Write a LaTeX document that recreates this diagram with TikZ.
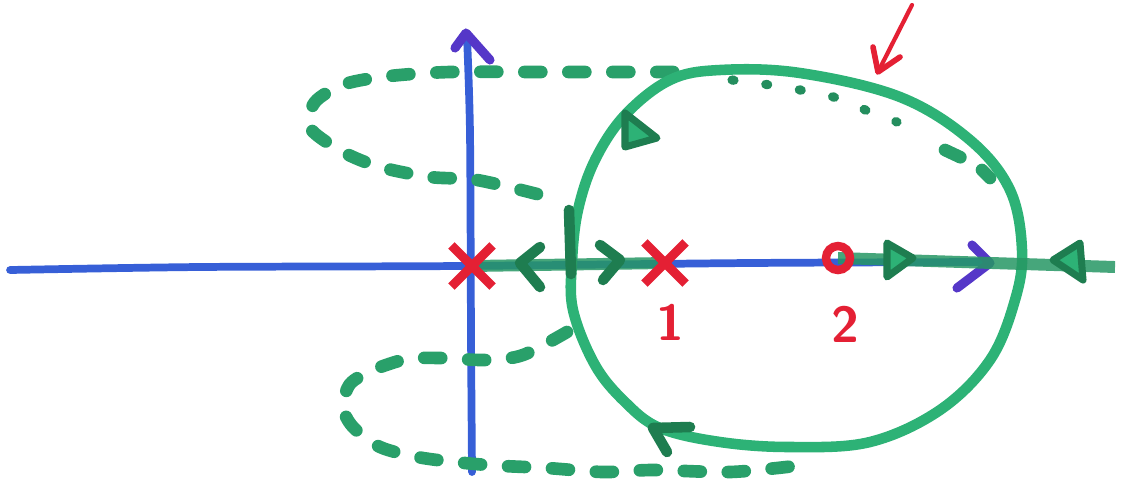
\documentclass[tikz,border=0pt]{standalone}
\usetikzlibrary{shapes.misc}

\definecolor{axisblue}{RGB}{55,95,215}
\definecolor{tipblue}{RGB}{85,55,200}
\definecolor{locgreen}{RGB}{45,178,118}
\definecolor{darkgreen}{RGB}{30,125,80}
\definecolor{markred}{RGB}{228,32,52}

\begin{document}
\begin{tikzpicture}[
	axis/.style={axisblue, line width=2.2pt, line cap=round},
	axistip/.style={tipblue, line width=2.6pt, line cap=round, line join=round},
	locus/.style={locgreen, line width=3pt, line cap=round},
	onaxis/.style={locgreen!85!black, line width=3.4pt, opacity=0.85},
	dashloc/.style={locgreen!90!black, line width=3.6pt, line cap=round, dash pattern=on 0.17cm off 0.27cm},
	dotloc/.style={locgreen!80!black, line width=2.6pt, line cap=round, dash pattern=on 0.02cm off 0.32cm},
	chev/.style={darkgreen, line width=3pt, line cap=round, line join=round},
	tri/.style={darkgreen, fill=locgreen, line width=2pt, line join=round},
	pole/.style={cross out, draw=markred, line width=2.6pt, minimum size=0.32cm, inner sep=0pt},
	zero/.style={circle, draw=markred, line width=2.4pt, minimum size=0.24cm, inner sep=0pt},
	lbl/.style={markred, font=\sffamily\bfseries\Large}
]
\useasboundingbox (0,0) rectangle (11.23,4.84);

\coordinate (O) at (4.72,2.18);
\coordinate (P1) at (6.65,2.21);
\coordinate (Z2) at (8.38,2.26);
\coordinate (E) at (11.15,2.17);

% Ejes
	\draw[axis] plot[smooth] coordinates {(0.10,2.14) (2.0,2.17) (4.6,2.18) (7.5,2.21) (9.85,2.22)};
	\draw[axis] plot[smooth] coordinates {(4.72,0.12) (4.71,1.5) (4.70,3.5) (4.67,4.47)};
	\draw[axistip] (4.55,4.36) -- (4.66,4.51) -- (4.90,4.24);
	\draw[axistip] (9.72,2.39) -- (9.90,2.21) -- (9.57,1.96);

% Lugar complementario (trazos)
	\draw[dashloc] plot[smooth] coordinates {(5.37,2.90) (4.77,3.04) (4.30,3.07) (3.80,3.17) (3.43,3.32) (3.10,3.56) (3.15,3.82) (3.45,4.00) (3.90,4.08) (4.50,4.12) (5.37,4.12) (6.20,4.12) (6.80,4.12)};
	\draw[dotloc] plot[smooth] coordinates {(7.32,4.04) (7.63,4.00) (7.95,3.95) (8.37,3.86) (8.70,3.72) (8.97,3.62)};
	\draw[dashloc] (9.45,3.34) -- (9.62,3.26);
	\draw[dashloc] (9.82,3.14) -- (9.90,3.06);
	\draw[dashloc] plot[smooth] coordinates {(5.67,1.52) (5.23,1.29) (4.87,1.24) (4.40,1.26) (4.07,1.25) (3.73,1.14) (3.50,1.00) (3.43,0.77) (3.53,0.57) (3.80,0.37) (4.23,0.26) (4.87,0.19) (5.47,0.16) (6.03,0.12) (6.53,0.14) (7.30,0.12) (7.95,0.18)};

% Lugar de las raices
	\draw[locus] plot[smooth cycle, tension=0.6] coordinates {(5.72,2.22) (5.73,1.74) (5.95,1.19) (6.25,0.82) (6.60,0.56) (7.20,0.42) (7.90,0.37) (8.70,0.42) (9.40,0.74) (9.90,1.24) (10.15,1.84) (10.22,2.34) (10.10,2.94) (9.70,3.44) (9.00,3.87) (8.00,4.11) (7.20,4.14) (6.70,4.04) (6.25,3.69) (5.95,3.24) (5.78,2.74)};
	\draw[onaxis] (O) -- (P1);
	\draw[onaxis] (Z2) -- (E);
	\draw[chev] (5.69,2.74) -- (5.71,2.10);

	\draw[chev] (5.40,2.37) -- (5.20,2.21) -- (5.40,1.97);
	\draw[chev] (6.00,2.39) -- (6.20,2.24) -- (6.03,2.04);
	\draw[tri] (8.87,2.41) -- (9.13,2.26) -- (8.87,2.07) -- cycle;
	\draw[tri] (10.53,2.24) -- (10.80,2.41) -- (10.83,2.04) -- cycle;
	\draw[tri] (6.25,3.71) -- (6.25,3.37) -- (6.57,3.46) -- cycle;
	\draw[chev] (6.90,0.57) -- (6.53,0.56) -- (6.67,0.32);

% Polos y cero
	\node[pole] (pO) at (O) {};
	\node[pole] (pP1) at (P1) {};
	\node[zero] (pZ2) at (Z2) {};
	\node[lbl] (L1) at (6.70,1.62) {1};
	\node[lbl] (L2) at (8.45,1.60) {2};

% Flecha
	\coordinate (tail) at (9.12,4.79);
	\coordinate (tip) at (8.78,4.12);
	\draw[markred, line width=1.2pt, line cap=round] (tail) -- (tip);
	\draw[markred, line width=1.6pt, line cap=round, line join=round] (8.73,4.37) -- (tip) -- (9.00,4.27);
\end{tikzpicture}
\end{document}
